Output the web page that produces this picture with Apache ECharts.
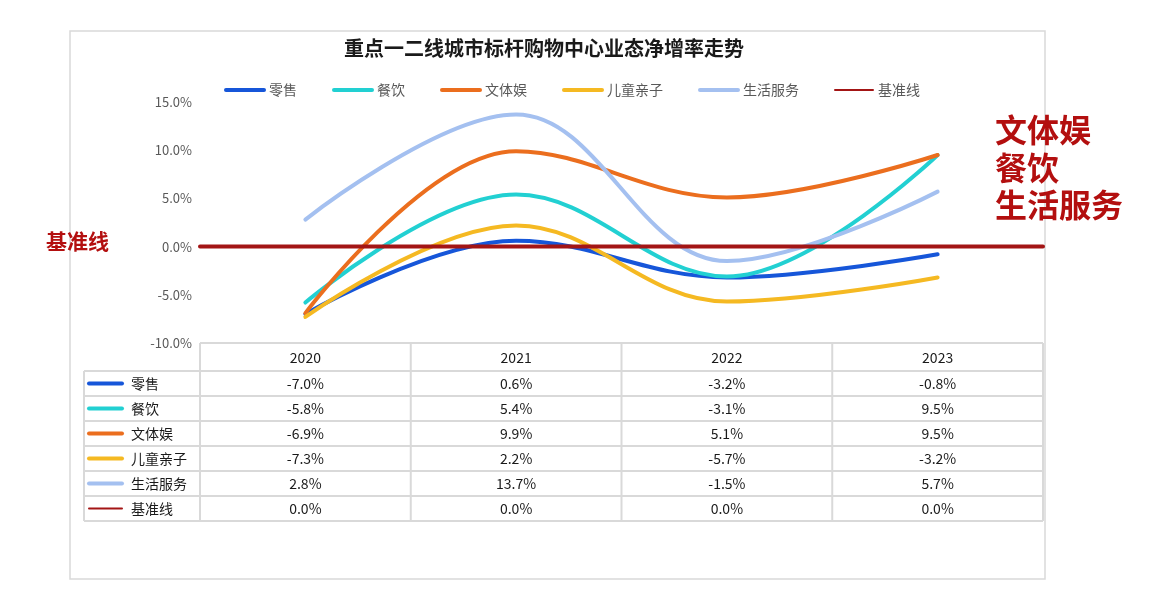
<!DOCTYPE html>
<html>
<head>
<meta charset="utf-8">
<script src="https://cdn.jsdelivr.net/npm/echarts@6/dist/echarts.min.js"></script>
<style>
html,body{margin:0;padding:0;background:#fff;}
#c{width:1155px;height:597px;}
</style>
</head>
<body>
<div id="c"></div>
<script>
var title = '重点一二线城市标杆购物中心业态净增率走势';
var categories = ['2020', '2021', '2022', '2023'];
var seriesNames = ['零售', '餐饮', '文体娱', '儿童亲子', '生活服务', '基准线'];
var retail = [-7.0, 0.6, -3.2, -0.8];
var dining = [-5.8, 5.4, -3.1, 9.5];
var culture = [-6.9, 9.9, 5.1, 9.5];
var kids = [-7.3, 2.2, -5.7, -3.2];
var lifeService = [2.8, 13.7, -1.5, 5.7];
var baseline = [0.0, 0.0, 0.0, 0.0];
var yTicks = [-10, -5, 0, 5, 10, 15];
var rightNote = ['文体娱', '餐饮', '生活服务'];
var leftNote = '基准线';

var seriesData = [retail, dining, culture, kids, lifeService, baseline];
var colors = ['#1656d9', '#22d0d2', '#eb6e1e', '#f5b922', '#a4c0f0', '#a31515'];
var FONT = '"Noto Sans CJK SC", "Noto Sans", sans-serif';

var chart = echarts.init(document.getElementById('c'));

var series = seriesNames.map(function (name, i) {
  var isBase = i === 5;
  return {
    name: name,
    type: 'line',
    xAxisIndex: isBase ? 1 : 0,
    data: seriesData[i],
    smooth: isBase ? false : 0.38,
    showSymbol: false,
    symbol: 'none',
    z: isBase ? 5 : 2 + i * 0.1,
    lineStyle: { width: 4, color: colors[i], cap: 'round' },
    itemStyle: { color: colors[i] },
    emphasis: { disabled: true }
  };
});

var legendData = seriesNames.map(function (name, i) {
  return {
    name: name,
    lineStyle: { width: i === 5 ? 2 : 4, color: colors[i], cap: 'round' },
    itemStyle: { opacity: 0 }
  };
});

var option = {
  backgroundColor: '#fff',
  animation: false,
  title: {
    text: title,
    left: 539,
    textAlign: 'center',
    top: 33,
    textStyle: { fontFamily: FONT, fontSize: 20, fontWeight: 'bold', color: '#1a1a1a' }
  },
  legend: {
    left: 219,
    top: 78,
    itemWidth: 38,
    itemHeight: 8,
    itemGap: 35,
    textStyle: { fontFamily: FONT, fontSize: 14, color: '#595959' },
    data: legendData
  },
  grid: { left: 200, right: 112, top: 102, bottom: 254, containLabel: false },
  xAxis: [{
    type: 'category',
    data: categories,
    boundaryGap: true,
    axisLine: { show: false },
    axisTick: { show: false },
    axisLabel: { fontFamily: FONT, fontSize: 14, color: '#1a1a1a', margin: 8 }
  }, {
    type: 'category',
    data: categories,
    boundaryGap: false,
    show: false
  }],
  yAxis: {
    type: 'value',
    min: yTicks[0],
    max: yTicks[yTicks.length - 1],
    interval: 5,
    axisLine: { show: false },
    axisTick: { show: false },
    splitLine: { show: false },
    axisLabel: {
      fontFamily: FONT, fontSize: 13, color: '#595959', margin: 8,
      formatter: function (v) { return v.toFixed(1) + '%'; }
    }
  },
  series: series
};
chart.setOption(option);

function buildGraphics() {
  var els = [];
  var gridBottom = 343;
  var headerH = 28, rowH = 25;
  var centers = categories.map(function (c, i) { return chart.convertToPixel({ xAxisIndex: 0 }, i); });
  var colW = centers[1] - centers[0];
  var tableLeft = centers[0] - colW / 2;
  var tableRight = centers[centers.length - 1] + colW / 2;
  var labelLeft = 84;
  var lineColor = '#d9d9d9';
  var rowsTop = gridBottom + headerH;
  var tableBottom = rowsTop + rowH * seriesNames.length;

  els.push({ type: 'rect', shape: { x: 70, y: 31, width: 975, height: 548 },
    style: { fill: null, stroke: lineColor, lineWidth: 1.5 }, z: 0, silent: true });

  els.push({ type: 'line', shape: { x1: tableLeft, y1: gridBottom, x2: tableRight, y2: gridBottom },
    style: { stroke: lineColor, lineWidth: 2 }, z: 1 });
  for (var r = 0; r <= seriesNames.length; r++) {
    var y = rowsTop + r * rowH;
    els.push({ type: 'line', shape: { x1: labelLeft, y1: y, x2: tableRight, y2: y },
      style: { stroke: lineColor, lineWidth: 2 }, z: 1 });
  }
  els.push({ type: 'line', shape: { x1: labelLeft, y1: rowsTop, x2: labelLeft, y2: tableBottom },
    style: { stroke: lineColor, lineWidth: 2 }, z: 1 });
  for (var c = 0; c <= categories.length; c++) {
    var x = tableLeft + c * colW;
    els.push({ type: 'line', shape: { x1: x, y1: gridBottom, x2: x, y2: tableBottom },
      style: { stroke: lineColor, lineWidth: 2 }, z: 1 });
  }
  seriesNames.forEach(function (name, i) {
    var cy = rowsTop + i * rowH + rowH / 2;
    els.push({ type: 'line', shape: { x1: 89, y1: cy, x2: 122, y2: cy },
      style: { stroke: colors[i], lineWidth: i === 5 ? 2 : 4, lineCap: 'round' }, z: 2 });
    els.push({ type: 'text', x: 131, y: cy,
      style: { text: name, fontFamily: FONT, fontSize: 14, fill: '#1a1a1a', textVerticalAlign: 'middle', textAlign: 'left' }, z: 2 });
    seriesData[i].forEach(function (v, j) {
      els.push({ type: 'text', x: centers[j], y: cy,
        style: { text: v.toFixed(1) + '%', fontFamily: FONT, fontSize: 14, fill: '#1a1a1a', textVerticalAlign: 'middle', textAlign: 'center' }, z: 2 });
    });
  });

  els.push({ type: 'text', x: 46, y: 241,
    style: { text: leftNote, fontFamily: FONT, fontSize: 21, fontWeight: 'bold', fill: '#b30f0f', textVerticalAlign: 'middle', textAlign: 'left' }, z: 10 });
  rightNote.forEach(function (t, k) {
    els.push({ type: 'text', x: 995, y: 130 + k * 37.5,
      style: { text: t, fontFamily: FONT, fontSize: 32, fontWeight: 'bold', fill: '#b30f0f', textVerticalAlign: 'middle', textAlign: 'left' }, z: 10 });
  });
  chart.setOption({ graphic: { elements: els } });
}
buildGraphics();
</script>
</body>
</html>
